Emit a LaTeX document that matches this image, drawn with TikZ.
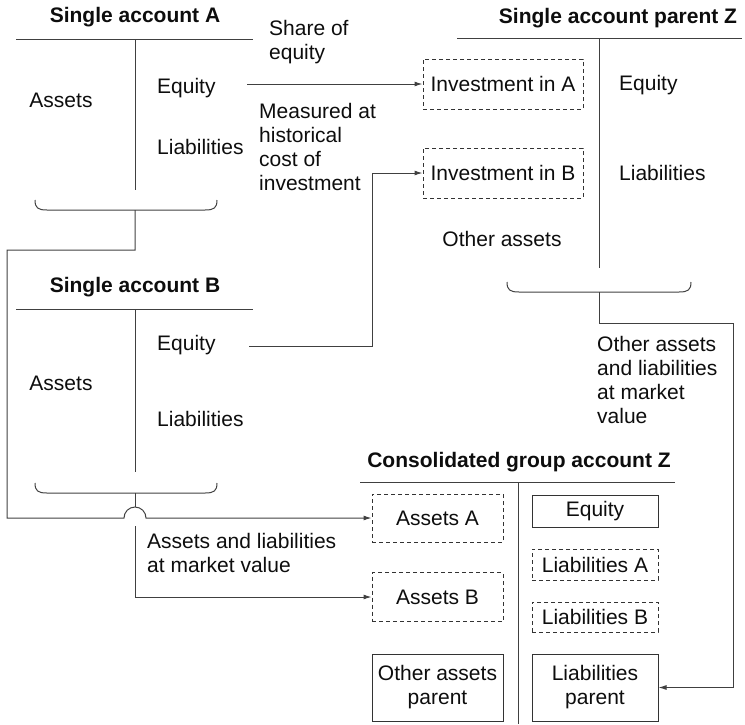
\documentclass[tikz,border=0pt]{standalone}
\usepackage{fontspec}
\setmainfont{Liberation Sans}
\usetikzlibrary{arrows.meta}

\begin{document}
\begin{tikzpicture}[
        x=1pt, y=-1pt,
        every node/.style={font=\fontsize{21}{24}\selectfont, text=black!95},
        heading/.style={font=\fontsize{21}{24}\selectfont\bfseries},
        entry/.style={anchor=west, inner sep=0pt, align=left},
        solidbox/.style={draw=black!80, line width=1pt, inner sep=1pt, align=center},
        dashbox/.style={solidbox, dash pattern=on 4pt off 3pt},
        tline/.style={line width=1pt, draw=black!75},
        link/.style={tline, -{Latex[length=8pt, width=5pt]}}
    ]
        \useasboundingbox (0,0) rectangle (745,724);

        % T-account rules: top line and middle line
        \foreach \xa/\xb/\ya/\xv/\yv in {16/253/39/135/190, 16/253/309/135/472, 457/742/38/599/268, 360/675/482/518/724} {
            \draw[tline] (\xa,\ya) -- (\xb,\ya) (\xv,\ya) -- (\xv,\yv);
        }

        % Braces under the single accounts
        \foreach \xa/\xb/\ya/\xs/\nm in {35/217/200/135/A, 35/217/483/135/B, 507/691/282/599/Z} {
            \draw[tline] (\xa,\ya) .. controls (\xa,\ya+8) and (\xa+3,\ya+10) .. (\xa+12,\ya+10)
                -- (\xb-12,\ya+10) .. controls (\xb-3,\ya+10) and (\xb,\ya+8) .. (\xb,\ya);
            \coordinate (brace\nm) at (\xs,\ya+10);
        }

        % Single account A
        \node[heading] (titleA) at (135,17) {Single account A};
        \node (assetsTA) at (61,100) {Assets};
        \node[entry] (eqA) at (157,88) {Equity};
        \node[entry] (liabA) at (157,147) {Liabilities};

        % Single account B
        \node[heading] (titleB) at (135,287) {Single account B};
        \node (assetsTB) at (61,383) {Assets};
        \node[entry] (eqB) at (157,345) {Equity};
        \node[entry] (liabB) at (157,419) {Liabilities};

        % Single account parent Z
        \node[heading] (titleZ) at (618,18) {Single account parent Z};
        \node[dashbox, minimum width=160pt, minimum height=50pt] (invA) at (503,84) {Investment in A};
        \node[dashbox, minimum width=160pt, minimum height=50pt] (invB) at (503,173) {Investment in B};
        \node (otherZ) at (502,239) {Other assets};
        \node[entry] (eqZ) at (619,85) {Equity};
        \node[entry] (liabZ) at (619,173) {Liabilities};

        % Consolidated group account Z
        \node[heading] (titleC) at (519,462) {Consolidated group account Z};
        \node[dashbox, minimum width=131pt, minimum height=48pt] (assetsA) at (437.5,518) {Assets A};
        \node[dashbox, minimum width=131pt, minimum height=49pt] (assetsB) at (437.5,597) {Assets B};
        \node[solidbox, minimum width=131pt, minimum height=67pt] (otherP) at (437.5,687.5) {Other assets\\parent};
        \node[solidbox, minimum width=126pt, minimum height=32pt] (eqC) at (595,511) {Equity};
        \node[dashbox, minimum width=126pt, minimum height=31pt] (liabCA) at (595,564.5) {Liabilities A};
        \node[dashbox, minimum width=126pt, minimum height=30pt] (liabCB) at (595,617) {Liabilities B};
        \node[solidbox, minimum width=126pt, minimum height=67pt] (liabP) at (595,687.5) {Liabilities\\parent};

        % Connector labels
        \node[entry] (shareLbl) at (269,42) {Share of\\equity};
        \node[entry] (costLbl) at (259,146.5) {Measured at\\historical\\cost of\\investment};
        \node[entry] (marketZ) at (597,379.5) {Other assets\\and liabilities\\at market\\value};
        \node[entry] (marketAB) at (147,553) {Assets and liabilities\\at market value};

        % Connections
        \coordinate (eqAout) at (247,84);
        \coordinate (eqBout) at (249,346);
        \draw[link] (eqAout) -- (invA.west);
        \draw[link] (eqBout) -| ([xshift=-50pt]invB.west) -- (invB.west);
        \draw[link] (braceA) -- (135,250) -- (7,250) -- (7,518) -- (124,518)
            arc[start angle=180, end angle=0, radius=11pt] -- (assetsA.west);
        \draw[tline] (braceB) -- (135,507);
        \draw[link] (135,526) |- (assetsB.west);
        \draw[link] (braceZ) -- (599,323) -| ([xshift=75pt]liabP.east) -- (liabP.east);
    \end{tikzpicture}
\end{document}
